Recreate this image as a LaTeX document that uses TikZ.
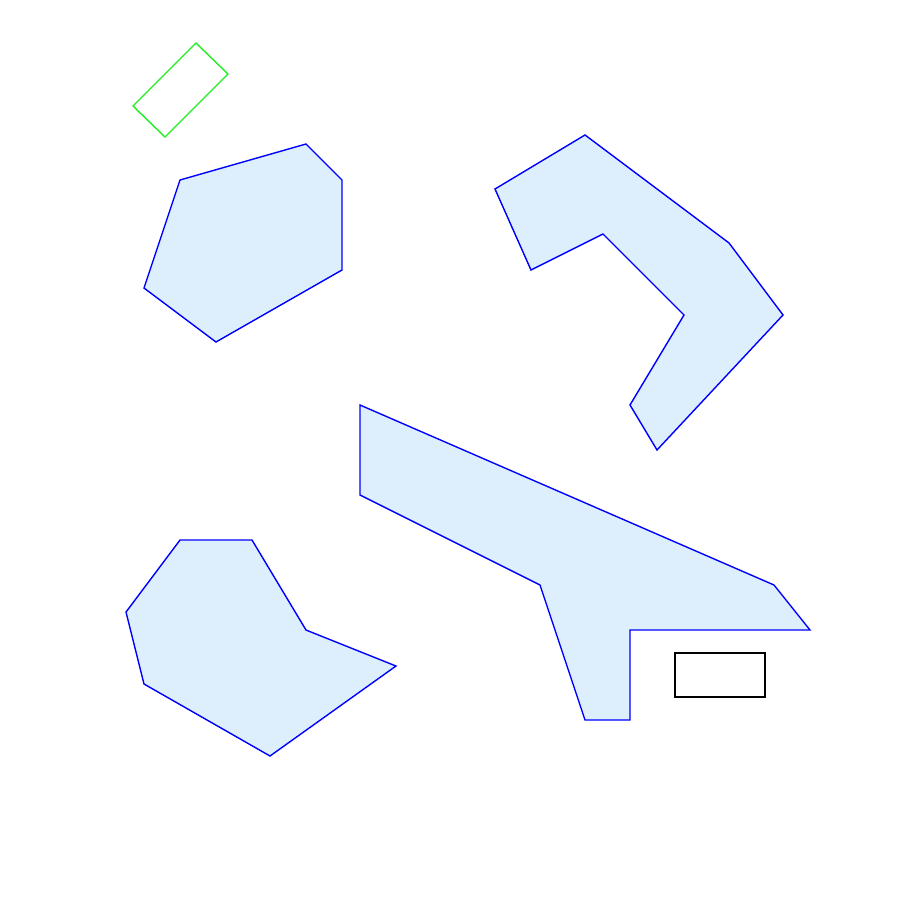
\documentclass[tikz,border=0pt]{standalone}
\begin{document}
\begin{tikzpicture}[x=1pt,y=-1pt,
  poly/.style={draw=blue,fill=fillblue,line width=1.4pt,line join=miter},
  ]
\definecolor{fillblue}{HTML}{DDEEFC}
\definecolor{greenline}{HTML}{22EE22}
\useasboundingbox (0,0) rectangle (900,900);
\fill[white] (0,0) rectangle (900,900);
% top-left hexagon
\draw[poly] (180,180) -- (306,144) -- (342,180) -- (342,270) -- (216,342) -- (144,288) -- cycle;
% top-right hook
\draw[poly] (495,189) -- (585,135) -- (729,243) -- (783,315) -- (657,450) -- (630,405) -- (684,315) -- (603,234) -- (531,270) -- cycle;
% big bottom-right shape
\draw[poly] (360,405) -- (774,585) -- (810,630) -- (630,630) -- (630,720) -- (585,720) -- (540,585) -- (360,495) -- cycle;
% bottom-left
\draw[poly] (180,540) -- (252,540) -- (306,630) -- (396,666) -- (270,756) -- (144,684) -- (126,612) -- cycle;
% green rotated rectangle
\draw[draw=greenline,line width=1.4pt] (133,106) -- (196,43) -- (228,74) -- (165,137) -- cycle;
% black rectangle
\draw[black,line width=1.4pt] (675,653) rectangle (765,697);
\end{tikzpicture}
\end{document}
